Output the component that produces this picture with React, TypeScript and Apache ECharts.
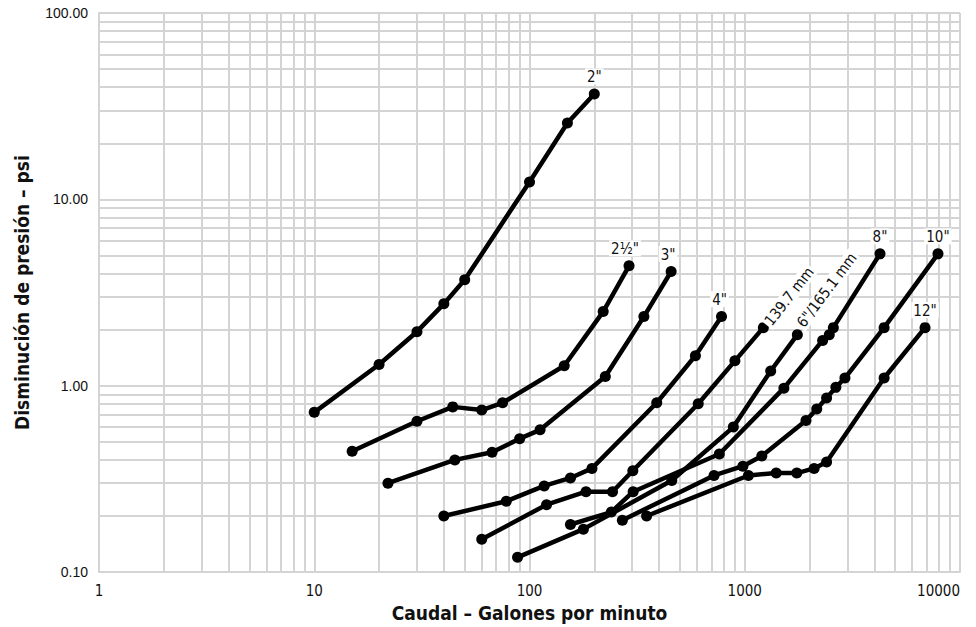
import React, { useEffect, useRef } from "react";
import * as echarts from "echarts";

// Tick labels
const X_TICKS = [1, 10, 100, 1000, 10000];
const Y_TICKS = [0.1, 1, 10, 100];

// Minor grid values (log paper)
const X_GRID = [2, 3, 4, 5, 6, 7, 8, 9, 20, 30, 40, 50, 60, 70, 80, 90, 200, 300, 400, 500, 600, 700, 800, 900, 2000, 3000, 4000, 5000, 6000, 7000, 8000, 9000];
const Y_GRID = [0.2, 0.3, 0.4, 0.5, 0.6, 0.7, 0.8, 0.9, 2, 3, 4, 5, 6, 7, 8, 9, 20, 30, 40, 50, 60, 70, 80, 90];

// Series (flow gpm, pressure drop psi)
const SIZES = ['2"', '2½"', '3"', '4"', "139.7 mm", '6"/165.1 mm', '8"', '10"', '12"'];

const flow2 = [10, 20, 30, 40, 50, 100, 150, 200];
const psi2 = [0.72, 1.3, 1.95, 2.75, 3.7, 12.4, 25.7, 36.8];

const flow25 = [15, 30, 44, 60, 75, 145, 220, 290];
const psi25 = [0.445, 0.645, 0.77, 0.74, 0.81, 1.28, 2.5, 4.4];

const flow3 = [22, 45, 67, 90, 112, 225, 340, 455];
const psi3 = [0.3, 0.4, 0.44, 0.52, 0.58, 1.12, 2.35, 4.1];

const flow4 = [40, 78, 117, 155, 195, 390, 590, 780];
const psi4 = [0.2, 0.24, 0.29, 0.32, 0.36, 0.81, 1.45, 2.35];

const flow1397 = [60, 120, 183, 243, 302, 608, 900, 1220];
const psi1397 = [0.15, 0.23, 0.27, 0.27, 0.35, 0.8, 1.36, 2.05];

const flow6 = [88, 178, 458, 885, 1320, 1755];
const psi6 = [0.12, 0.17, 0.31, 0.6, 1.2, 1.88];

const flow8 = [155, 240, 303, 762, 1520, 2300, 2470, 2580, 4250];
const psi8 = [0.18, 0.21, 0.27, 0.43, 0.97, 1.75, 1.88, 2.05, 5.1];

const flow10 = [270, 720, 980, 1200, 1925, 2160, 2400, 2650, 2920, 4440, 7900];
const psi10 = [0.19, 0.33, 0.37, 0.42, 0.65, 0.75, 0.86, 0.98, 1.1, 2.05, 5.1];

const flow12 = [350, 1040, 1400, 1745, 2100, 2400, 4440, 6880];
const psi12 = [0.2, 0.33, 0.34, 0.34, 0.36, 0.39, 1.1, 2.05];

const FLOWS = [flow2, flow25, flow3, flow4, flow1397, flow6, flow8, flow10, flow12];
const PSIS = [psi2, psi25, psi3, psi4, psi1397, psi6, psi8, psi10, psi12];

const NARROW = "'Liberation Sans Narrow', 'DejaVu Sans Condensed', 'Noto Sans', sans-serif";
const REGULAR = "'Liberation Sans', Arial, sans-serif";
const GRID_COLOR = "#d4d4d4";

const LABEL_CFG: Record<string, any> = {
  '2"': { position: "top", distance: 4 },
  '2½"': { position: "top", distance: 4, offset: [-4, 0] },
  '3"': { position: "top", distance: 4, offset: [-3, 0] },
  '4"': { position: "top", distance: 4, offset: [-2, 0] },
  "139.7 mm": { position: "right", distance: 1, rotate: 52, align: "left", verticalAlign: "middle", offset: [0, -4] },
  '6"/165.1 mm': { position: "right", distance: 3, rotate: 53, align: "left", verticalAlign: "middle", offset: [2, -10] },
  '8"': { position: "top", distance: 4 },
  '10"': { position: "top", distance: 4 },
  '12"': { position: "top", distance: 4 },
};

export default function App() {
  const ref = useRef<HTMLDivElement>(null);

  useEffect(() => {
    if (!ref.current) return;
    const chart = echarts.init(ref.current, undefined, { renderer: "svg" });

    const curveSeries = SIZES.map((name, si) => {
      const fl = FLOWS[si];
      const ps = PSIS[si];
      const data = fl.map((f, i) => {
        if (i === fl.length - 1) {
          return {
            value: [f, ps[i]],
            label: {
              show: true,
              formatter: name,
              fontFamily: NARROW,
              fontSize: 15,
              color: "#111",
              backgroundColor: "#ffffff",
              padding: [1, 2, 0, 2],
              ...LABEL_CFG[name],
            },
          };
        }
        return { value: [f, ps[i]] };
      });
      return {
        name,
        type: "line",
        data,
        z: 10,
        symbol: "circle",
        symbolSize: 11,
        showSymbol: true,
        itemStyle: { color: "#000" },
        lineStyle: { color: "#000", width: 4.5, join: "round", cap: "round" },
        emphasis: { disabled: true },
        silent: true,
      };
    });

    const gridSeries = {
      name: "grid",
      type: "line",
      data: [],
      z: 1,
      silent: true,
      markLine: {
        silent: true,
        z: 1,
        symbol: ["none", "none"],
        animation: false,
        label: { show: false },
        lineStyle: { color: GRID_COLOR, width: 2, type: "solid" },
        emphasis: { disabled: true },
        data: [
          ...X_GRID.map((v) => ({ xAxis: v })),
          ...Y_GRID.map((v) => ({ yAxis: v })),
        ],
      },
    };

    chart.setOption({
      animation: false,
      backgroundColor: "#ffffff",
      grid: { left: 99, right: 16, top: 13, bottom: 53, containLabel: false },
      xAxis: {
        type: "log",
        logBase: 10,
        min: X_TICKS[0],
        max: X_TICKS[X_TICKS.length - 1],
        name: "Caudal – Galones por minuto",
        nameLocation: "middle",
        nameGap: 28,
        nameTextStyle: { fontFamily: NARROW, fontWeight: "bold", fontSize: 19, color: "#111" },
        axisLine: { show: true, lineStyle: { color: GRID_COLOR, width: 2 } },
        axisTick: { show: false },
        splitLine: { show: true, lineStyle: { color: GRID_COLOR, width: 2 } },
        axisLabel: {
          margin: 11,
          fontFamily: NARROW,
          fontSize: 15,
          color: "#111",
          alignMaxLabel: "right",
          formatter: (v: number) => String(Math.round(v)),
        },
      },
      yAxis: {
        type: "log",
        logBase: 10,
        min: Y_TICKS[0],
        max: Y_TICKS[Y_TICKS.length - 1],
        name: "Disminución de presión – psi",
        nameLocation: "middle",
        nameRotate: 90,
        nameGap: 68,
        nameTextStyle: { fontFamily: NARROW, fontWeight: "bold", fontSize: 19, color: "#111" },
        axisLine: { show: true, lineStyle: { color: GRID_COLOR, width: 2 } },
        axisTick: { show: false },
        splitLine: { show: true, lineStyle: { color: GRID_COLOR, width: 2 } },
        axisLabel: {
          margin: 11,
          fontFamily: REGULAR,
          fontSize: 14,
          color: "#111",
          formatter: (v: number) => v.toFixed(2),
        },
      },
      series: [gridSeries, ...curveSeries],
    });

    return () => chart.dispose();
  }, []);

  return (
    <div
      ref={ref}
      style={{ position: "absolute", left: 0, top: 0, width: 976, height: 627, background: "#fff" }}
    />
  );
}
